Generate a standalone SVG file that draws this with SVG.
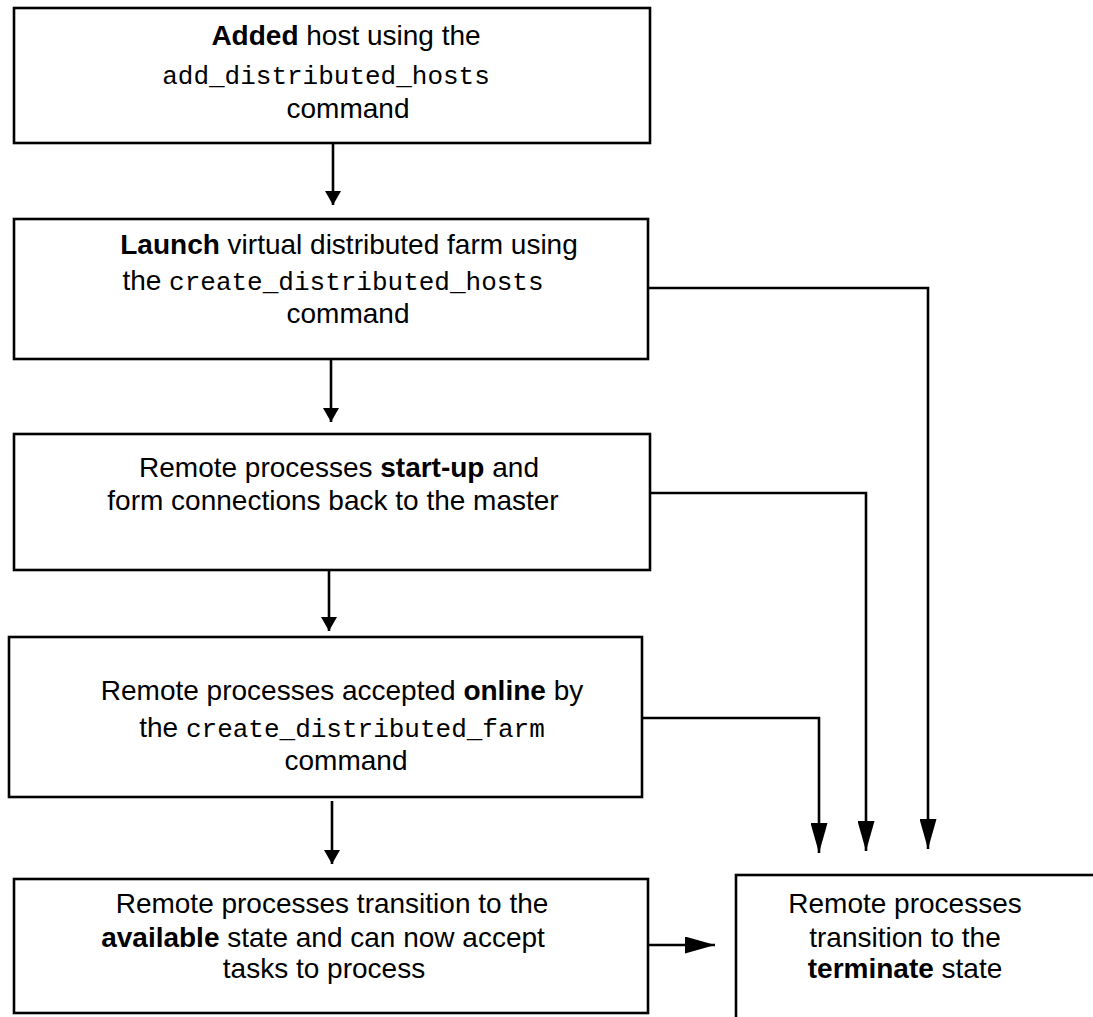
<svg xmlns="http://www.w3.org/2000/svg" width="1093" height="1017" viewBox="0 0 1093 1017">
  <style>
    .box { fill: #ffffff; stroke: #000000; stroke-width: 2.6; }
    .wire { fill: none; stroke: #000000; stroke-width: 2.6; }
    .lbl { font-family: "Liberation Sans", Arial, sans-serif; font-size: 28px; fill: #000000; text-anchor: middle; }
    .b { font-weight: bold; }
    .mono { font-family: "Liberation Mono", "Courier New", monospace; font-size: 26px; }
  </style>
  <defs>
    <marker id="headSmall" viewBox="0 0 14 16" refX="14" refY="8" markerWidth="14" markerHeight="16" markerUnits="userSpaceOnUse" orient="auto">
      <path d="M0,0 L14,8 L0,16 Z" fill="#000000"/>
    </marker>
    <marker id="headLong" viewBox="0 0 30 17" refX="30" refY="8.5" markerWidth="30" markerHeight="17" markerUnits="userSpaceOnUse" orient="auto">
      <path d="M0,0 L30,8.5 L0,17 Z" fill="#000000"/>
    </marker>
  </defs>

  <rect width="1093" height="1017" fill="#ffffff"/>

  <g id="connectors">
    <line class="wire" x1="333" y1="143" x2="333" y2="205" marker-end="url(#headSmall)"/>
    <line class="wire" x1="331" y1="359" x2="331" y2="422" marker-end="url(#headSmall)"/>
    <line class="wire" x1="329" y1="570" x2="329" y2="631" marker-end="url(#headSmall)"/>
    <line class="wire" x1="332" y1="801" x2="332" y2="864" marker-end="url(#headSmall)"/>
    <polyline class="wire" points="648,288 928,288 928,849" marker-end="url(#headLong)"/>
    <polyline class="wire" points="650,493 866,493 866,851" marker-end="url(#headLong)"/>
    <polyline class="wire" points="642,718 819,718 819,853" marker-end="url(#headLong)"/>
    <line class="wire" x1="648" y1="945" x2="715" y2="945" marker-end="url(#headLong)"/>
  </g>

  <g id="node-added">
    <rect class="box" x="14" y="8" width="636" height="135"/>
    <text class="lbl" x="346" y="45"><tspan class="b">Added</tspan> host using the</text>
    <text class="lbl mono" x="326" y="84">add_distributed_hosts</text>
    <text class="lbl" x="348" y="118">command</text>
  </g>

  <g id="node-launch">
    <rect class="box" x="14" y="219" width="634" height="140"/>
    <text class="lbl" x="349" y="254"><tspan class="b">Launch</tspan> virtual distributed farm using</text>
    <text class="lbl" x="333" y="290">the <tspan class="mono">create_distributed_hosts</tspan></text>
    <text class="lbl" x="348" y="323">command</text>
  </g>

  <g id="node-startup">
    <rect class="box" x="14" y="434" width="636" height="136"/>
    <text class="lbl" x="339" y="477">Remote processes <tspan class="b">start-up</tspan> and</text>
    <text class="lbl" x="333" y="510">form connections back to the master</text>
  </g>

  <g id="node-online">
    <rect class="box" x="9" y="637" width="633" height="160"/>
    <text class="lbl" x="342" y="700">Remote processes accepted <tspan class="b">online</tspan> by</text>
    <text class="lbl" x="342" y="737">the <tspan class="mono">create_distributed_farm</tspan></text>
    <text class="lbl" x="346" y="770">command</text>
  </g>

  <g id="node-available">
    <rect class="box" x="14" y="879" width="634" height="134"/>
    <text class="lbl" x="332" y="913">Remote processes transition to the</text>
    <text class="lbl" x="323" y="947"><tspan class="b">available</tspan> state and can now accept</text>
    <text class="lbl" x="324" y="978">tasks to process</text>
  </g>

  <g id="node-terminate">
    <rect class="box" x="736" y="875" width="420" height="200"/>
    <text class="lbl" x="905" y="913">Remote processes</text>
    <text class="lbl" x="905" y="947">transition to the</text>
    <text class="lbl" x="905" y="978"><tspan class="b">terminate</tspan> state</text>
  </g>
</svg>
